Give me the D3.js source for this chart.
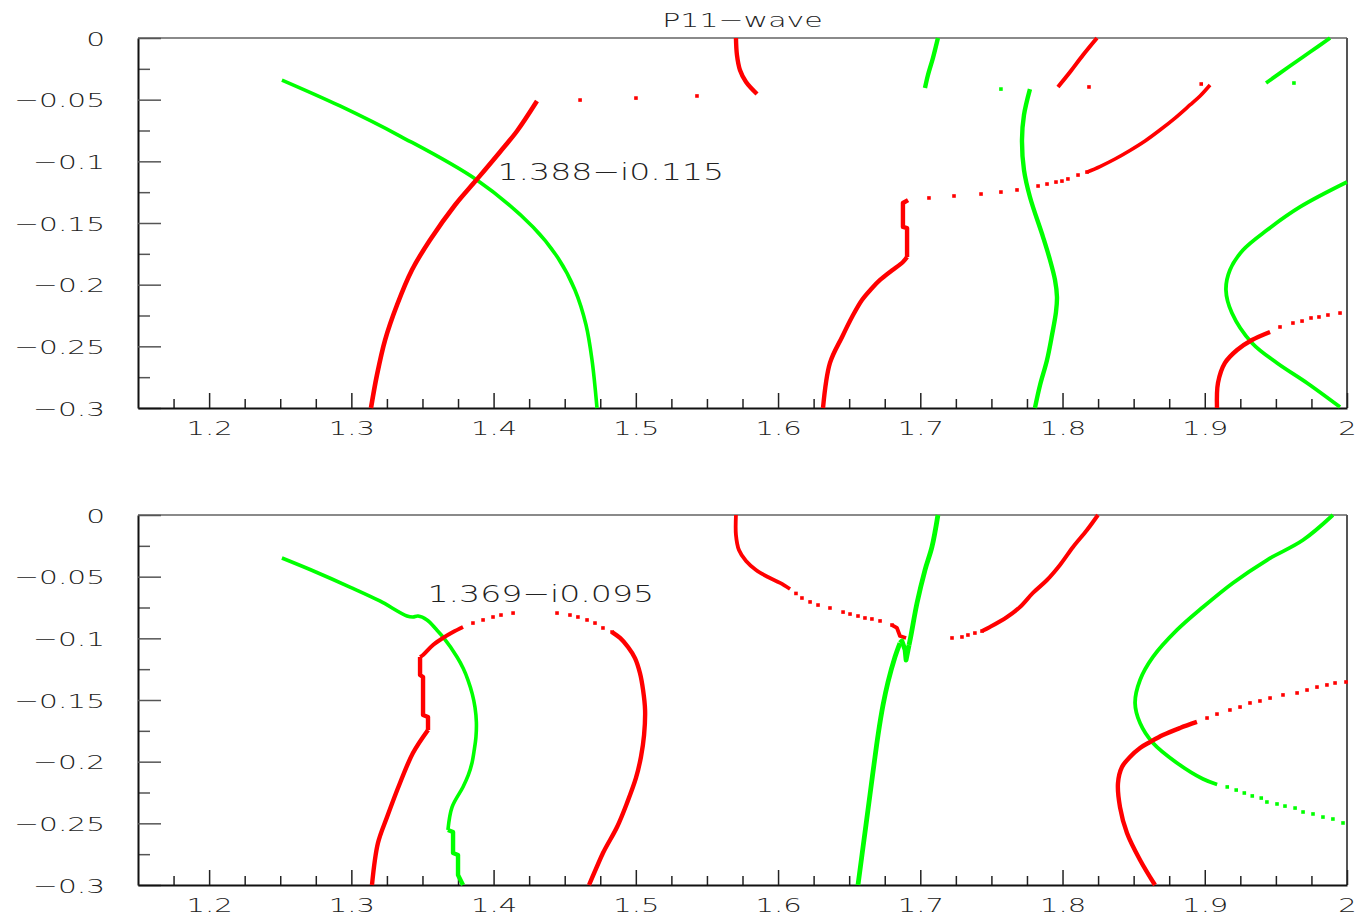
<!DOCTYPE html>
<html>
<head>
<meta charset="utf-8">
<script src="https://cdn.jsdelivr.net/npm/d3@7"></script>
<style>
  body { margin: 0; background: #fff; }
  svg text { font-family: "DejaVu Sans", sans-serif; font-weight: 200; fill: #222; }
</style>
</head>
<body>
<svg id="chart" width="1357" height="918"></svg>
<script>
// axis ticks
const xTickValues = [1.2, 1.3, 1.4, 1.5, 1.6, 1.7, 1.8, 1.9, 2.0];
const xTickLabels = ["1.2", "1.3", "1.4", "1.5", "1.6", "1.7", "1.8", "1.9", "2"];
const yTickValues = [0, -0.05, -0.1, -0.15, -0.2, -0.25, -0.3];
const yTickLabels = ["0", "\u22120.05", "\u22120.1", "\u22120.15", "\u22120.2", "\u22120.25", "\u22120.3"];

// ---- top panel trajectories [Re, Im] ----
const topGreenArc = [[1.2512,-0.0341],[1.292,-0.0551],[1.3342,-0.0795],[1.388,-0.115],[1.4277,-0.1532],[1.4453,-0.1784],[1.4572,-0.2043],[1.465,-0.2327],[1.4692,-0.2611],[1.4727,-0.3]];
const topRedRise = [[1.3138,-0.3],[1.318,-0.2733],[1.3237,-0.2449],[1.3321,-0.2165],[1.3426,-0.1881],[1.3553,-0.1638],[1.3729,-0.1354],[1.388,-0.115],[1.4045,-0.0924],[1.4165,-0.0754],[1.4305,-0.0511]];
const topRedHook = [[1.5704,0],[1.5711,-0.0138],[1.5732,-0.0259],[1.5775,-0.0357],[1.5852,-0.0454]];
const topGreenStub = [[1.7124,0],[1.7089,-0.0162],[1.7054,-0.03],[1.7033,-0.0405]];
const topGreenWave = [[1.7771,-0.0414],[1.7729,-0.0624],[1.7715,-0.0827],[1.7729,-0.107],[1.7771,-0.1289],[1.7863,-0.1614],[1.7912,-0.18],[1.7947,-0.1962],[1.7961,-0.21],[1.7954,-0.2222],[1.7926,-0.2408],[1.7891,-0.2611],[1.7842,-0.2814],[1.7806,-0.3]];
const topRedStepLow = [[1.6316,-0.3],[1.6365,-0.2635],[1.645,-0.2424],[1.652,-0.2262],[1.659,-0.2124],[1.6655,-0.2035],[1.6717,-0.1962],[1.68,-0.1885],[1.6878,-0.1816],[1.6907,-0.1776]];
const topRedStepJog = [[1.6907,-0.1776],[1.6907,-0.1541],[1.6878,-0.1532],[1.6878,-0.1338],[1.6914,-0.1314]];
const topRedStepDots = [[1.7061,-0.1297],[1.7237,-0.1281],[1.7427,-0.1265],[1.7567,-0.1249],[1.768,-0.1232],[1.7828,-0.12],[1.7891,-0.1184],[1.7954,-0.1168],[1.7996,-0.116],[1.8038,-0.1143],[1.8109,-0.1111],[1.8172,-0.1087]];
const topRedStepTail = [[1.8172,-0.1087],[1.8263,-0.1042],[1.8369,-0.0981],[1.8474,-0.0912],[1.858,-0.0835],[1.8685,-0.0746],[1.8791,-0.0649],[1.8896,-0.0543],[1.8967,-0.047],[1.9037,-0.0381]];
const topRedEdge = [[1.7968,-0.0397],[1.8053,-0.0276],[1.8144,-0.0138],[1.8242,0]];
const topGreenEdge = [[1.9431,-0.0365],[1.9599,-0.0227],[1.974,-0.0114],[1.9881,0]];
const topGreenBend = [[2.0,-0.1168],[1.967,-0.137],[1.9438,-0.1557],[1.9269,-0.1719],[1.9177,-0.1881],[1.9149,-0.2043],[1.9191,-0.223],[1.9332,-0.2473],[1.9508,-0.2635],[1.9719,-0.2797],[1.9951,-0.2992]];
const topRedFoot = [[1.9086,-0.3],[1.9093,-0.2797],[1.9142,-0.2635],[1.9227,-0.253],[1.9332,-0.2449],[1.9459,-0.2384]];
const topRedFootDots = [[1.9529,-0.2343],[1.962,-0.2311],[1.9684,-0.2295],[1.9747,-0.227],[1.9803,-0.2262],[1.9866,-0.2246],[1.9951,-0.223]];
const topRedSingles = [[1.4608,-0.0503],[1.5001,-0.0487],[1.543,-0.047],[1.8186,-0.0397],[1.8975,-0.0373]];
const topGreenSingles = [[1.7567,-0.0414],[1.9627,-0.0365]];
const topPole = { re: 1.388, im: -0.115, text: "1.388\u2212i0.115" };

// ---- bottom panel trajectories ----
const botGreenTail = [[1.2512,-0.0349],[1.275,-0.0462],[1.299,-0.0584],[1.32,-0.0697],[1.3391,-0.0819],[1.3433,-0.0827],[1.3469,-0.0819],[1.3532,-0.0851],[1.3595,-0.0925],[1.3644,-0.0989],[1.3743,-0.1151],[1.3787,-0.1245],[1.382,-0.1338],[1.385,-0.145],[1.3869,-0.1557],[1.3879,-0.168],[1.3876,-0.18],[1.3864,-0.1905],[1.3848,-0.2011],[1.3822,-0.211],[1.3785,-0.2205],[1.3708,-0.2368],[1.3679,-0.2554]];
const botGreenTailJog = [[1.3679,-0.2554],[1.3715,-0.257],[1.3715,-0.2741],[1.375,-0.2757],[1.375,-0.2919],[1.3785,-0.3]];
const botRedLeftLow = [[1.3145,-0.3],[1.3187,-0.266],[1.3251,-0.2449],[1.3342,-0.2173],[1.3433,-0.193],[1.3539,-0.1743]];
const botRedLeftJog = [[1.3539,-0.1743],[1.3539,-0.1638],[1.3504,-0.1622],[1.3504,-0.1314],[1.3483,-0.1297],[1.3483,-0.1151]];
const botRedLeftHigh = [[1.3483,-0.1151],[1.3504,-0.1135],[1.3574,-0.1054],[1.3644,-0.0997],[1.3715,-0.0949],[1.3785,-0.0908]];
const botRedLeftDots = [[1.3855,-0.0876],[1.3926,-0.0851],[1.3996,-0.0827],[1.4052,-0.0811],[1.4137,-0.0795]];
const botRedRightDots = [[1.4446,-0.0795],[1.4537,-0.0811],[1.4593,-0.0827],[1.4657,-0.0851],[1.4713,-0.0876],[1.4769,-0.0916],[1.4833,-0.0949]];
const botRedRight = [[1.4833,-0.0949],[1.4889,-0.0997],[1.4945,-0.107],[1.4994,-0.116],[1.5029,-0.1281],[1.5051,-0.1419],[1.5065,-0.1581],[1.5058,-0.1784],[1.5036,-0.1962],[1.5001,-0.2132],[1.4938,-0.2335],[1.4868,-0.253],[1.4769,-0.2741],[1.4671,-0.3]];
const botRedSweep = [[1.5704,0],[1.5704,-0.0162],[1.5725,-0.0284],[1.5775,-0.0373],[1.5845,-0.0446],[1.5929,-0.0503],[1.6014,-0.0551],[1.6084,-0.06]];
const botRedSweepDots = [[1.6126,-0.0636],[1.6168,-0.0673],[1.6225,-0.0705],[1.6281,-0.073],[1.6365,-0.0754],[1.6457,-0.0787],[1.6506,-0.0803],[1.6562,-0.0819],[1.6611,-0.0835],[1.666,-0.0843],[1.6717,-0.0859],[1.6801,-0.0892]];
const botRedKink = [[1.6801,-0.0892],[1.6836,-0.0916],[1.6857,-0.0981],[1.69,-0.0997]];
const botGreenRiseLow = [[1.6562,-0.3],[1.659,-0.2757],[1.6618,-0.2514],[1.6646,-0.227],[1.6674,-0.2027],[1.6703,-0.1784],[1.6738,-0.1541],[1.6773,-0.1354],[1.6822,-0.1151],[1.6857,-0.1038]];
const botGreenRiseKink = [[1.6857,-0.1038],[1.6871,-0.1022],[1.6893,-0.1095],[1.69,-0.1176],[1.6921,-0.1054]];
const botGreenRiseHigh = [[1.6921,-0.1054],[1.6935,-0.0973],[1.6977,-0.0714],[1.7033,-0.0446],[1.7082,-0.0259],[1.7124,0]];
const botRedArcDots = [[1.7223,-0.0997],[1.7293,-0.0989],[1.7335,-0.0973],[1.7384,-0.0957],[1.7434,-0.0941]];
const botRedArc = [[1.7434,-0.0941],[1.749,-0.0908],[1.761,-0.0827],[1.7701,-0.0746],[1.7792,-0.0632],[1.7891,-0.0527],[1.7982,-0.0405],[1.8074,-0.0259],[1.8172,-0.0122],[1.8249,0]];
const botGreenBend = [[1.9901,0],[1.9691,-0.0203],[1.9438,-0.0365],[1.9198,-0.0551],[1.8988,-0.0746],[1.8805,-0.0932],[1.8636,-0.1151],[1.8545,-0.1338],[1.851,-0.1524],[1.8545,-0.1687],[1.8636,-0.1849],[1.8805,-0.2011],[1.8988,-0.2141],[1.9087,-0.2185]];
const botGreenBendDots = [[1.9158,-0.2205],[1.9221,-0.223],[1.9278,-0.2254],[1.9334,-0.2278],[1.9397,-0.2295],[1.9437,-0.2327],[1.9508,-0.2343],[1.9564,-0.236],[1.9635,-0.2376],[1.9691,-0.2408],[1.9761,-0.2424],[1.9831,-0.2449],[1.9901,-0.2465],[1.9972,-0.2497]];
const botRedBend = [[1.865,-0.3],[1.8545,-0.2797],[1.8453,-0.2578],[1.8404,-0.2368],[1.839,-0.2173],[1.8418,-0.2043],[1.8474,-0.1962],[1.8545,-0.1889],[1.8615,-0.1841],[1.8706,-0.1784],[1.8826,-0.1727],[1.8945,-0.1678]];
const botRedBendDots = [[1.9016,-0.1646],[1.9086,-0.1614],[1.9177,-0.1581],[1.9248,-0.1557],[1.9318,-0.1524],[1.9388,-0.1508],[1.9459,-0.1484],[1.955,-0.1459],[1.9649,-0.1443],[1.9719,-0.1419],[1.9789,-0.1395],[1.9859,-0.1378],[1.9916,-0.1362],[1.9993,-0.1354]];
const botPole = { re: 1.369, im: -0.095, text: "1.369\u2212i0.095" };

const RED = "#ff0000", GREEN = "#00ff00";

const topSeries = [
  { data: topGreenArc, color: GREEN, kind: "line", w: 3.6 },
  { data: topRedRise, color: RED, kind: "line", w: 4.6 },
  { data: topRedHook, color: RED, kind: "line", w: 4.4 },
  { data: topGreenStub, color: GREEN, kind: "line", w: 4.4 },
  { data: topGreenWave, color: GREEN, kind: "line", w: 4.4 },
  { data: topRedStepLow, color: RED, kind: "line", w: 4.4 },
  { data: topRedStepJog, color: RED, kind: "step", w: 4.4 },
  { data: topRedStepDots, color: RED, kind: "dots" },
  { data: topRedStepTail, color: RED, kind: "line", w: 3.6 },
  { data: topRedEdge, color: RED, kind: "line", w: 4 },
  { data: topGreenEdge, color: GREEN, kind: "line", w: 3.8 },
  { data: topGreenBend, color: GREEN, kind: "line", w: 3.8 },
  { data: topRedFoot, color: RED, kind: "line", w: 4.4 },
  { data: topRedFootDots, color: RED, kind: "dots" },
  { data: topRedSingles, color: RED, kind: "dots" },
  { data: topGreenSingles, color: GREEN, kind: "dots" }
];

const botSeries = [
  { data: botGreenTail, color: GREEN, kind: "line", w: 3.6 },
  { data: botGreenTailJog, color: GREEN, kind: "step", w: 4.4 },
  { data: botRedLeftLow, color: RED, kind: "line", w: 4.4 },
  { data: botRedLeftJog, color: RED, kind: "step", w: 4.4 },
  { data: botRedLeftHigh, color: RED, kind: "line", w: 4 },
  { data: botRedLeftDots, color: RED, kind: "dots" },
  { data: botRedRightDots, color: RED, kind: "dots" },
  { data: botRedRight, color: RED, kind: "line", w: 4.4 },
  { data: botRedSweep, color: RED, kind: "line", w: 3.8 },
  { data: botRedSweepDots, color: RED, kind: "dots" },
  { data: botRedKink, color: RED, kind: "step", w: 3.8 },
  { data: botGreenRiseLow, color: GREEN, kind: "line", w: 4.8 },
  { data: botGreenRiseKink, color: GREEN, kind: "step", w: 4.8 },
  { data: botGreenRiseHigh, color: GREEN, kind: "line", w: 4.8 },
  { data: botRedArcDots, color: RED, kind: "dots" },
  { data: botRedArc, color: RED, kind: "line", w: 4 },
  { data: botGreenBend, color: GREEN, kind: "line", w: 3.8 },
  { data: botGreenBendDots, color: GREEN, kind: "dots" },
  { data: botRedBend, color: RED, kind: "line", w: 4.4 },
  { data: botRedBendDots, color: RED, kind: "dots" }
];

const svg = d3.select("#chart");
const left = 138, right = 1347, panelH = 370;

const x = d3.scaleLinear().domain([1.15, 2.0]).range([left, right]);

// stretch glyphs sideways, the old plotter font is very wide
function stretch(sel, k) {
  sel.each(function () {
    const w = this.getComputedTextLength();
    this.setAttribute("textLength", w * k);
    this.setAttribute("lengthAdjust", "spacingAndGlyphs");
  });
}

svg.append("text")
  .attr("x", (left + right) / 2)
  .attr("y", 27)
  .attr("text-anchor", "middle")
  .style("font-size", "20px")
  .text("P11\u2212wave")
  .call(stretch, 1.5);

function drawPanel(top, series, pole, noteDx, noteDy) {
  const y = d3.scaleLinear().domain([-0.3, 0]).range([top + panelH, top]);
  const g = svg.append("g");

  // frame: top and right in grey
  g.append("line").attr("x1", left).attr("x2", right).attr("y1", top).attr("y2", top)
    .attr("stroke", "#8a8a8a").attr("stroke-width", 2);
  g.append("line").attr("x1", right).attr("x2", right).attr("y1", top).attr("y2", top + panelH)
    .attr("stroke", "#555").attr("stroke-width", 2);

  // minor ticks
  const yMinor = d3.range(-0.275, 0, 0.05);
  const xMinor = d3.range(1.175, 2.0, 0.025).filter(v => Math.abs(v * 10 - Math.round(v * 10)) > 0.01);

  const yMinorAxis = d3.axisLeft(y).tickValues(yMinor).tickSizeInner(-12).tickSizeOuter(0).tickFormat("");
  g.append("g").attr("transform", `translate(${left},0)`).call(yMinorAxis)
    .call(a => a.select(".domain").remove())
    .call(a => a.selectAll("line").attr("stroke", "#555").attr("stroke-width", 1.5));

  const xMinorAxis = d3.axisBottom(x).tickValues(xMinor).tickSizeInner(-9).tickSizeOuter(0).tickFormat("");
  g.append("g").attr("transform", `translate(0,${top + panelH})`).call(xMinorAxis)
    .call(a => a.select(".domain").remove())
    .call(a => a.selectAll("line").attr("stroke", "#222").attr("stroke-width", 1.5));

  // major axes
  const yAxis = d3.axisLeft(y).tickValues(yTickValues).tickSizeInner(-23).tickSizeOuter(0)
    .tickPadding(33).tickFormat((d, i) => yTickLabels[i]);
  const ya = g.append("g").attr("transform", `translate(${left},0)`).call(yAxis);
  ya.select(".domain").attr("stroke", "#111").attr("stroke-width", 2);
  ya.selectAll(".tick line").attr("stroke", "#555").attr("stroke-width", 1.5);
  ya.selectAll("text").attr("fill", "#222").style("font-size", "20px").attr("dy", "0.36em")
    .call(stretch, 1.48);

  const xAxis = d3.axisBottom(x).tickValues(xTickValues).tickSizeInner(-15).tickSizeOuter(0)
    .tickPadding(13).tickFormat((d, i) => xTickLabels[i]);
  const xa = g.append("g").attr("transform", `translate(0,${top + panelH})`).call(xAxis);
  xa.select(".domain").attr("stroke", "#111").attr("stroke-width", 2);
  xa.selectAll(".tick line").attr("stroke", "#222").attr("stroke-width", 1.5);
  xa.selectAll("text").attr("fill", "#222").style("font-size", "20px")
    .call(stretch, 1.45);

  // trajectories
  const smooth = d3.line().x(d => x(d[0])).y(d => y(d[1])).curve(d3.curveCatmullRom.alpha(0.5));
  const stepped = d3.line().x(d => x(d[0])).y(d => y(d[1]));
  const s = 3.6;
  series.forEach(sr => {
    if (sr.kind === "dots") {
      g.selectAll(null).data(sr.data).enter().append("rect")
        .attr("x", d => x(d[0]) - s / 2).attr("y", d => y(d[1]) - s / 2)
        .attr("width", s).attr("height", s).attr("fill", sr.color);
    } else {
      const gen = sr.kind === "step" ? stepped : smooth;
      g.append("path").attr("d", gen(sr.data)).attr("fill", "none")
        .attr("stroke", sr.color).attr("stroke-width", sr.w).attr("stroke-linejoin", "round");
    }
  });

  g.append("text")
    .attr("x", x(pole.re) + noteDx)
    .attr("y", y(pole.im) + noteDy)
    .style("font-size", "23px")
    .text(pole.text)
    .call(stretch, 1.44);
}

drawPanel(38, topSeries, topPole, 21, 0);
drawPanel(515, botSeries, botPole, -22, -30);
</script>
</body>
</html>
